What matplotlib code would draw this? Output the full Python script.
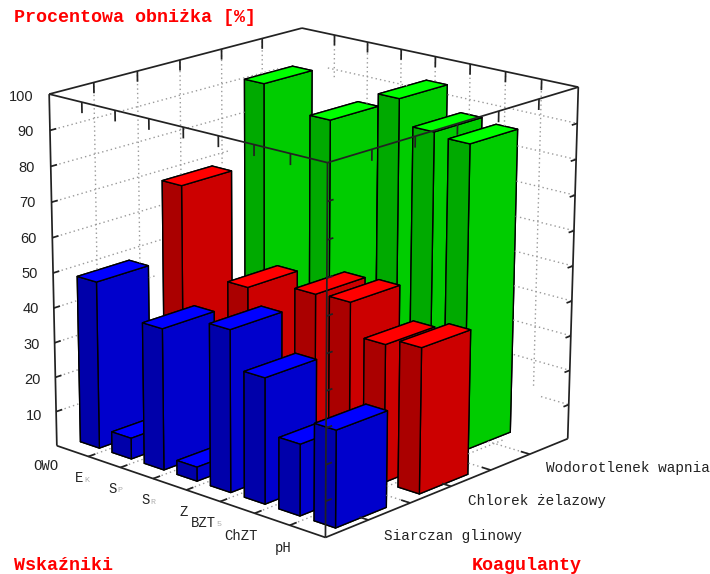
import matplotlib
matplotlib.use('Agg')
import matplotlib.pyplot as plt
from matplotlib.path import Path
import numpy as np

W, H = 710, 574

indicators = ['OWO', 'E', 'S', 'S', 'Z', 'BZT', 'ChZT', 'pH']
indicator_subs = ['', 'K', 'P', 'R', '', '5', '', '']
coagulants = ['Siarczan glinowy', 'Chlorek żelazowy', 'Wodorotlenek wapnia']

siarczan = [48, 6, 40.3, 4, 45.7, 35.3, 20, 27]
chlorek = [68, 3, 44, 3, 47.5, 48, 39, 41]
wodorotlenek = [90.5, 3, 84.5, 3, 95, 88, 87, 0]
z_ticks = [10, 20, 30, 40, 50, 60, 70, 80, 90, 100]

# box corners as they sit on the picture (x, y, z) -> pixel
box_corners = [
    ((0, 0, 0), (57, 445)), ((8, 0, 0), (325, 538)),
    ((8, 3, 0), (568, 438)), ((0, 3, 0), (301, 360)),
    ((0, 0, 100), (49, 94)), ((8, 0, 100), (328, 163)),
    ((8, 3, 100), (578, 87)), ((0, 3, 100), (302, 28)),
]

fig = plt.figure(figsize=(W / 100, H / 100), dpi=100)
ax = fig.add_axes([-0.1, -0.2, 1.2, 1.4], projection='3d')
ax.set_axis_off()
ax.computed_zorder = False
ax.apply_aspect()


def fit_projection():
    """Fit the camera matrix that puts the box corners on their pixels."""
    rows, rhs = [], []
    to_ax = ax.transData.inverted()
    for (x, y, z), (px, py) in box_corners:
        u, v = to_ax.transform((px, H - py))
        rows.append([x, y, z, 1, 0, 0, 0, 0, -u * x, -u * y, -u * z])
        rhs.append(u)
        rows.append([0, 0, 0, 0, x, y, z, 1, -v * x, -v * y, -v * z])
        rhs.append(v)
    p = np.linalg.lstsq(np.array(rows), np.array(rhs), rcond=None)[0]
    # third row is only depth for sorting faces: bigger is farther
    return np.array([p[:4], p[4:8], [-1 / 8, 1 / 3, -1 / 100, 0], [p[8], p[9], p[10], 1]])


proj_matrix = fit_projection()
ax.get_proj = lambda: proj_matrix


def project(xs, ys, zs):
    pts = proj_matrix @ np.array([xs, ys, zs, np.ones_like(xs)], dtype=float)
    return np.column_stack([pts[0] / pts[3], pts[1] / pts[3]])


series = [
    (wodorotlenek, 2, '#00cc00', '#00aa00', '#00ff00'),
    (chlorek, 1, '#cc0000', '#aa0000', '#ff0000'),
    (siarczan, 0, '#0000cc', '#0000aa', '#0000ff'),
]
bar_faces = []
order = 100
for values, row, side, dark, top in series:
    for i, val in enumerate(values):
        if val <= 0:
            continue
        x0, x1, y0, y1 = i + 0.2, i + 0.8, row + 0.2, row + 0.8
        # faces: bottom, top, -y, +y, -x, +x
        ax.bar3d([x0], [y0], [0], 0.6, 0.6, val,
                 color=[side, top, dark, dark, dark, side], shade=False,
                 edgecolor='#000000', linewidth=1.0, zorder=order)
        order += 1
        bar_faces.append(Path(project(np.array([x0, x1, x1, x0]), np.array([y0, y0, y0, y0]),
                                      np.array([0, 0, val, val]))))
        bar_faces.append(Path(project(np.array([x1, x1, x1, x1]), np.array([y0, y1, y1, y0]),
                                      np.array([0, 0, val, val]))))
        bar_faces.append(Path(project(np.array([x0, x1, x1, x0]), np.array([y0, y0, y1, y1]),
                                      np.array([val, val, val, val]))))


def line(xs, ys, zs):
    ax.plot(xs, ys, zs, color='#222222', lw=1.25, zorder=200, clip_on=False, solid_capstyle='butt')


def back_line(xs, ys, zs, dotted=False):
    """Line behind the bars: the parts that a bar covers are left out."""
    t = np.linspace(0, 1, 400)
    px = xs[0] + (xs[1] - xs[0]) * t
    py = ys[0] + (ys[1] - ys[0]) * t
    pz = zs[0] + (zs[1] - zs[0]) * t
    screen = project(px, py, pz)
    hidden = np.zeros(len(t), dtype=bool)
    for face in bar_faces:
        hidden |= face.contains_points(screen)
    px = np.where(hidden, np.nan, px)
    if dotted:
        ax.plot(px, py, pz, color='#9a9a9a', linewidth=1.0, linestyle=(0, (1, 2.2)),
                zorder=150, clip_on=False)
    else:
        ax.plot(px, py, pz, color='#222222', lw=1.25, zorder=151, clip_on=False, solid_capstyle='butt')


x_ticks = range(1, 8)
y_ticks = [0.5, 1, 1.5, 2, 2.5]

# dotted grid on the floor and both back walls
for x in x_ticks:
    back_line([x, x], [0, 3], [0, 0], dotted=True)
    back_line([x, x], [3, 3], [0, 100], dotted=True)
for y in y_ticks:
    back_line([0, 8], [y, y], [0, 0], dotted=True)
    back_line([0, 0], [y, y], [0, 100], dotted=True)
for z in z_ticks[:-1]:
    back_line([0, 0], [0, 3], [z, z], dotted=True)
    back_line([0, 8], [3, 3], [z, z], dotted=True)

# back part of the frame, bars go over it
back_line([0, 0], [3, 3], [0, 100])
back_line([0, 0], [0, 3], [0, 0])
back_line([0, 8], [3, 3], [0, 0])
for x in x_ticks:
    back_line([x, x], [3, 2.92], [0, 0])
for y in y_ticks:
    back_line([0, 0.25], [y, y], [0, 0])

# front part of the frame, on top of the bars
line([0, 8], [0, 0], [0, 0])
line([8, 8], [0, 3], [0, 0])
line([8, 8], [0, 0], [0, 100])
line([0, 0], [0, 0], [0, 100])
line([8, 8], [3, 3], [0, 100])
line([0, 8], [0, 0], [100, 100])
line([8, 8], [0, 3], [100, 100])
line([0, 8], [3, 3], [100, 100])
line([0, 0], [0, 3], [100, 100])

# ticks on the frame
for x in x_ticks:
    line([x, x], [0, 0], [100, 97])
    line([x, x], [3, 3], [100, 97])
    line([x, x], [0, 0.08], [0, 0])
for y in y_ticks:
    line([0, 0], [y, y], [100, 97])
    line([8, 8], [y, y], [100, 97])
    line([8, 7.75], [y, y], [0, 0])
for z in z_ticks[:-1]:
    line([0, 0], [0, 0.07], [z, z])
    line([8, 8], [0, 0.07], [z, z])
    line([8, 8], [3, 2.93], [z, z])


def px_text(x, y, s, **kw):
    return fig.text(x / W, 1 - y / H, s, **kw)


mono = 'Liberation Mono'
for val in z_ticks:
    px_text(33 + (100 - val) * 0.1, 97 + (100 - val) * 3.54, str(val), family='Liberation Sans',
            fontsize=10.5, color='#222222', ha='right', va='center')

label_pos = [(33, 466), (75, 478), (108, 489), (141, 500), (180, 512), (191, 523),
             (224, 536), (275, 548)]
for name, sub, (x, y) in zip(indicators, indicator_subs, label_pos):
    px_text(x, y, name, family=mono, fontsize=10, color='#222222', ha='left', va='center')
    if sub:
        px_text(x + 8.4 * len(name) + 0.5, y + 2, sub, family=mono, fontsize=6, color='#b0b0b0',
                ha='left', va='center')

coag_pos = [(384, 536), (468, 501), (546, 468)]
for name, (x, y) in zip(coagulants, coag_pos):
    px_text(x, y, name, family=mono, fontsize=10.35, color='#222222', ha='left', va='center')

red_kw = dict(family=mono, fontsize=13.2, fontweight='bold', color='#ff0000', va='center', ha='left')
px_text(14, 17, 'Procentowa obniżka [%]', **red_kw)
px_text(14, 566, 'Wskaźniki', **red_kw)
px_text(472, 566, 'Koagulanty', **red_kw)

fig.savefig('out.png', dpi=100, facecolor='white')
